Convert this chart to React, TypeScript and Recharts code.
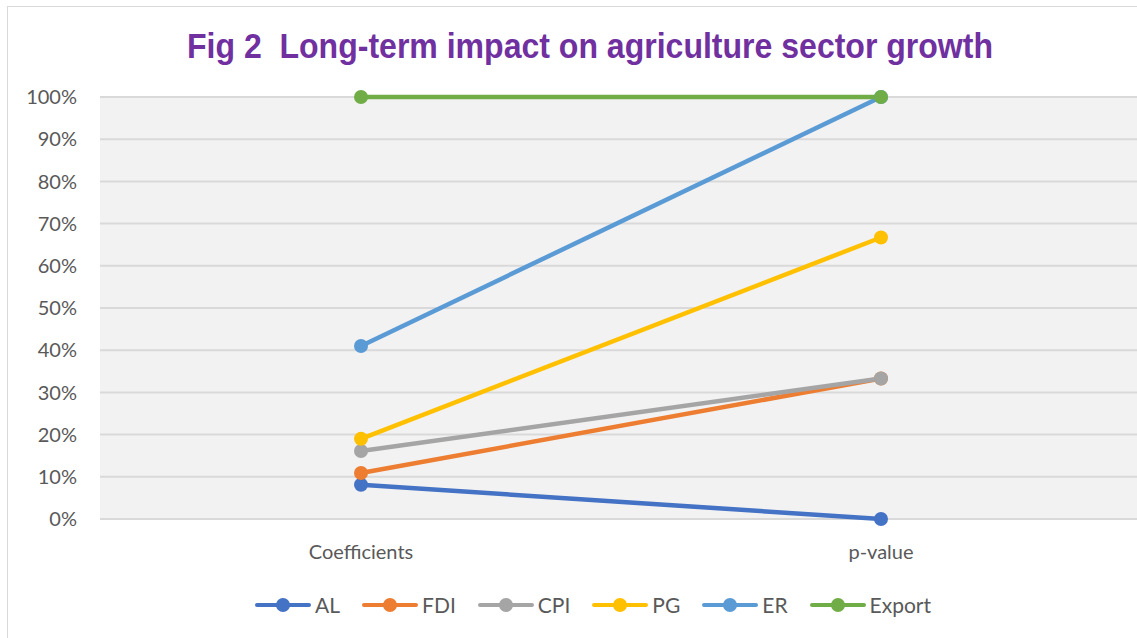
import React from 'react';
import { LineChart, Line, XAxis, YAxis, CartesianGrid, Legend } from 'recharts';

const categories = ['Coefficients', 'p-value'];
const seriesNames = ['AL', 'FDI', 'CPI', 'PG', 'ER', 'Export'];
const alValues = [0.081, 0];
const fdiValues = [0.109, 0.333];
const cpiValues = [0.161, 0.333];
const pgValues = [0.19, 0.667];
const erValues = [0.41, 1.0];
const exportValues = [1.0, 1.0];
const yTicks = [0, 0.1, 0.2, 0.3, 0.4, 0.5, 0.6, 0.7, 0.8, 0.9, 1.0];

const COLORS = ['#4472c4', '#ed7d31', '#a5a5a5', '#ffc000', '#5b9bd5', '#70ad47'];
const allValues = [alValues, fdiValues, cpiValues, pgValues, erValues, exportValues];

const data = categories.map((cat, i) => {
  const row: Record<string, any> = { name: cat };
  seriesNames.forEach((s, j) => {
    row[s] = allValues[j][i];
  });
  return row;
});

const FONT = 'Lato, "Open Sans", sans-serif';

const renderLegend = () => (
  <div style={{ display: 'flex', justifyContent: 'center', alignItems: 'center', fontFamily: FONT, fontSize: 21, color: '#595959' }}>
    {seriesNames.map((s, i) => (
      <div key={s} style={{ display: 'flex', alignItems: 'center', marginRight: 22 }}>
        <svg width={56} height={16} style={{ marginRight: 4 }}>
          <line x1={2} y1={8} x2={54} y2={8} stroke={COLORS[i]} strokeWidth={4} strokeLinecap="round" />
          <circle cx={28} cy={8} r={7} fill={COLORS[i]} />
        </svg>
        <span>{s}</span>
      </div>
    ))}
  </div>
);

const App: React.FC = () => {
  return (
    <div style={{ position: 'fixed', left: 0, top: 0, width: 1137, height: 638, overflow: 'hidden', background: '#fff' }}>
      <div style={{ position: 'absolute', left: 7, top: 6, width: 1200, height: 700, border: '1px solid #d9d9d9' }} />
      <div
        style={{
          position: 'absolute',
          left: 0,
          width: 1180,
          top: 25,
          textAlign: 'center',
          fontFamily: '"Liberation Sans Narrow", "Liberation Sans", sans-serif',
          fontWeight: 'bold',
          fontSize: 35,
          color: '#7030a0',
          lineHeight: '42px',
          whiteSpace: 'pre',
          transform: 'scaleX(0.915)',
        }}
      >
        {'Fig 2  Long-term impact on agriculture sector growth'}
      </div>
      <div style={{ position: 'absolute', left: 0, top: 0 }}>
        <LineChart width={1150} height={638} data={data} margin={{ top: 97, right: 8, bottom: 0, left: 0 }}>
          <CartesianGrid vertical={false} fill="#f2f2f2" stroke="#d9d9d9" strokeWidth={2} />
          <XAxis
            dataKey="name"
            axisLine={false}
            tickLine={false}
            tickSize={0}
            tickMargin={26}
            height={95}
            padding={{ left: 261, right: 261 }}
            tick={{ fill: '#595959', fontSize: 20, fontFamily: FONT }}
          />
          <YAxis
            domain={[0, 1]}
            ticks={yTicks}
            width={100}
            axisLine={false}
            tickLine={false}
            tickSize={0}
            tickMargin={23}
            tickFormatter={(v: number) => `${Math.round(v * 100)}%`}
            tick={{ fill: '#595959', fontSize: 20, fontFamily: FONT }}
          />
          <Legend
            content={renderLegend}
            wrapperStyle={{ position: 'absolute', top: 592, left: 0, width: 1208, height: 24 }}
          />
          {seriesNames.map((s, i) => (
            <Line
              key={s}
              type="linear"
              dataKey={s}
              stroke={COLORS[i]}
              strokeWidth={4.5}
              dot={{ r: 7, fill: COLORS[i], stroke: COLORS[i], strokeWidth: 0 }}
              activeDot={false}
              isAnimationActive={false}
            />
          ))}
        </LineChart>
      </div>
    </div>
  );
};

export default App;
